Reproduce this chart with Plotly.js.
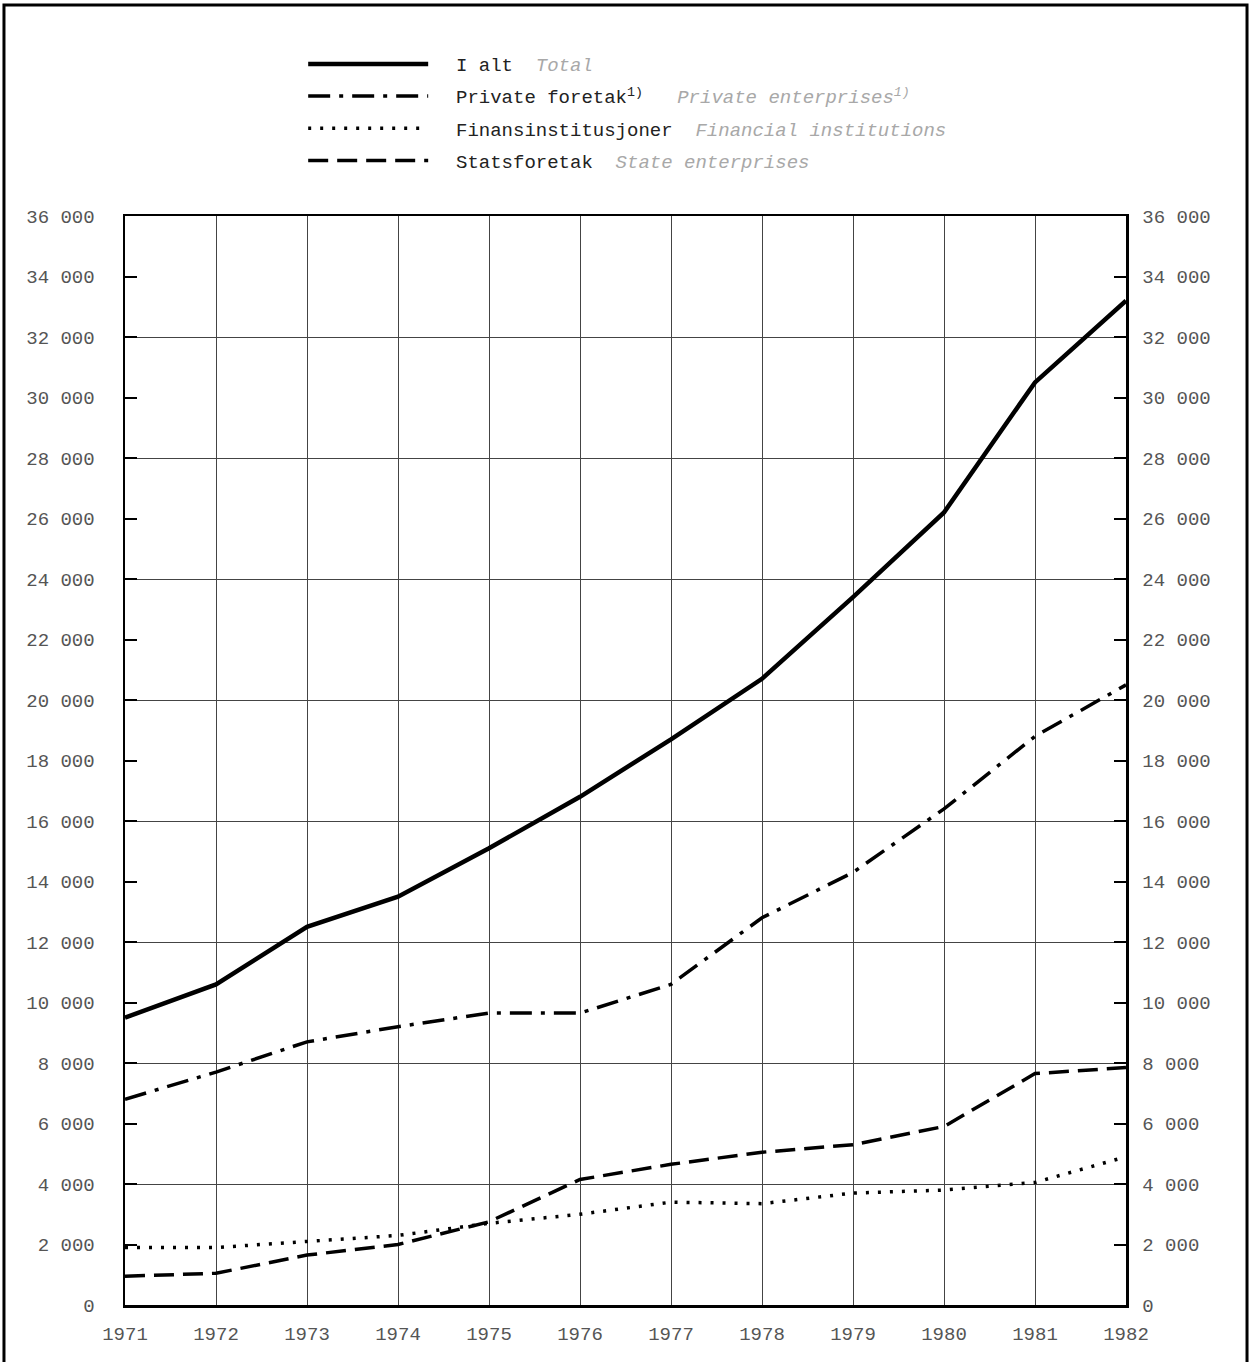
<!DOCTYPE html>
<html>
<head>
<meta charset="utf-8">
<script src="https://cdn.plot.ly/plotly-2.35.2.min.js"></script>
<style>html,body{margin:0;padding:0;background:#fff;}#chart{width:1250px;height:1362px;}</style>
</head>
<body>
<div id="chart"></div>
<script>
const years = [1971,1972,1973,1974,1975,1976,1977,1978,1979,1980,1981,1982];
const total = [9500,10600,12500,13500,15100,16800,18700,20700,23400,26200,30500,33200];
const privateEnt = [6800,7700,8700,9200,9650,9650,10600,12800,14300,16400,18800,20500];
const financial = [1900,1900,2100,2300,2700,3000,3400,3350,3700,3800,4050,4900];
const stateEnt = [950,1050,1650,2000,2750,4150,4650,5050,5300,5900,7650,7850];
const yTickVals = [0,2000,4000,6000,8000,10000,12000,14000,16000,18000,20000,22000,24000,26000,28000,30000,32000,34000,36000];
const yTickText = ['0','2 000','4 000','6 000','8 000','10 000','12 000','14 000','16 000','18 000','20 000','22 000','24 000','26 000','28 000','30 000','32 000','34 000','36 000'];
const gridVals = [0,4000,8000,12000,16000,20000,24000,28000,32000,36000];
const it = s => '<span style="color:#a8a8a8"><i>' + s + '</i></span>';
const names = [
  '  I alt  ' + it('Total'),
  '  Private foretak<sup>1)</sup>   ' + it('Private enterprises<sup>1)</sup>'),
  '  Finansinstitusjoner  ' + it('Financial institutions'),
  '  Statsforetak  ' + it('State enterprises')
];

const traces = [
  {x: years, y: total, name: names[0], legendgroup: 'a', mode: 'lines', line: {color: '#000', width: 4.5, dash: 'solid'}},
  {x: years, y: privateEnt, name: names[1], legendgroup: 'b', mode: 'lines', line: {color: '#000', width: 3.5, dash: '22px,9px,4px,9px'}},
  {x: years, y: financial, name: names[2], legendgroup: 'c', mode: 'lines', line: {color: '#000', width: 3.5, dash: '3px,9px'}},
  {x: years, y: stateEnt, name: names[3], legendgroup: 'd', mode: 'lines', line: {color: '#000', width: 3.5, dash: '20px,9px'}},
  {x: [years[0]], y: [0], yaxis: 'y2', showlegend: false, mode: 'none', hoverinfo: 'skip'},
  {x: [years[0]], y: [0], yaxis: 'y3', showlegend: false, mode: 'none', hoverinfo: 'skip'}
];

const tickFont = {family: 'Liberation Mono, Courier New, monospace', size: 19, color: '#555'};

const layout = {
  width: 1250, height: 1362,
  margin: {l: 125, r: 124, t: 216, b: 57},
  paper_bgcolor: '#fff', plot_bgcolor: '#fff',
  showlegend: true,
  legend: {
    x: 0.178, xanchor: 'left', y: 1.157, yanchor: 'top',
    font: {family: 'Liberation Mono, Courier New, monospace', size: 19, color: '#222'},
    itemwidth: 120, tracegroupgap: 4.5, bgcolor: 'rgba(0,0,0,0)'
  },
  xaxis: {
    range: [1971, 1982], tickvals: years, ticktext: years.map(String),
    showgrid: true, gridcolor: '#444', gridwidth: 1,
    showline: true, linecolor: '#000', linewidth: 2.5, mirror: true,
    ticks: '', ticklabelstandoff: 10, tickfont: tickFont, zeroline: false, fixedrange: true
  },
  yaxis: {
    range: [0, 36000], tickvals: yTickVals, ticktext: yTickText,
    showgrid: false, showline: true, linecolor: '#000', linewidth: 2.5,
    ticks: 'inside', ticklen: 12, tickwidth: 2, tickcolor: '#000',
    ticklabelstandoff: 24, tickfont: tickFont, zeroline: false
  },
  yaxis2: {
    range: [0, 36000], tickvals: yTickVals, ticktext: yTickText,
    overlaying: 'y', side: 'right', showgrid: false,
    showline: true, linecolor: '#000', linewidth: 2.5,
    ticks: 'inside', ticklen: 12, tickwidth: 2, tickcolor: '#000',
    ticklabelstandoff: 10, tickfont: tickFont, zeroline: false
  },
  yaxis3: {
    range: [0, 36000], tickvals: gridVals, overlaying: 'y', side: 'left',
    showgrid: true, gridcolor: '#444', gridwidth: 1,
    showticklabels: false, ticks: '', showline: false, zeroline: false
  },
  shapes: [
    {type: 'rect', xref: 'paper', yref: 'paper', x0: -0.1209, x1: 1.1209, y0: -0.08, y1: 1.1938,
     line: {color: '#000', width: 3}, fillcolor: 'rgba(0,0,0,0)', layer: 'below'}
  ]
};

Plotly.newPlot('chart', traces, layout, {staticPlot: true});
</script>
</body>
</html>
